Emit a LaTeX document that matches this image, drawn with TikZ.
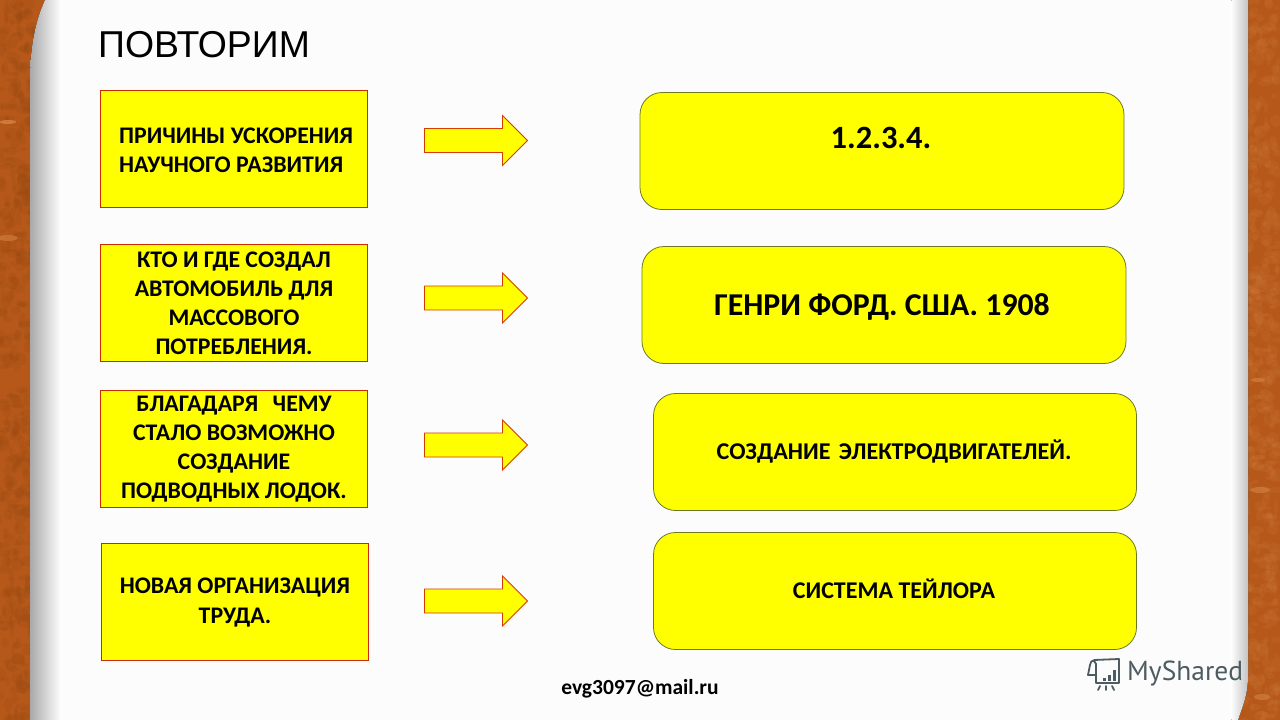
\documentclass[tikz,border=0pt]{standalone}
\usepackage{fontspec}
\setmainfont{Carlito}
\newfontfamily\titlefont{Liberation Sans}
\newfontfamily\logofont{PT Sans}
\usetikzlibrary{calc}
\definecolor{boxyellow}{HTML}{FFFF00}
\definecolor{wood}{HTML}{B5581A}
\definecolor{wooddark}{HTML}{8F430F}
\definecolor{woodlight}{HTML}{D98A4A}
\definecolor{panel}{HTML}{FCFCFD}
\definecolor{shade}{HTML}{A9A9AA}
\definecolor{edgered}{HTML}{CC2A00}
\definecolor{edgegreen}{HTML}{6E7A22}
\definecolor{logoc}{HTML}{4C5C60}
\tikzset{
  x=1pt,y=-1pt,
  sqbox/.style={draw=edgered,fill=boxyellow,line width=1pt,align=center,font=\bfseries\fontsize{23.8}{29}\selectfont,inner sep=0pt},
  rdbox/.style={draw=edgegreen,fill=boxyellow,line width=.8pt,rounded corners=22pt,align=center,inner sep=0pt},
  boxtext/.style={inner sep=0pt,align=center},
  blockarrow/.style={draw=edgered!80!orange,fill=boxyellow,line width=.9pt,line join=miter},
}
\newcommand{\blockarr}[2]{% x, y-centre
  \draw[blockarrow] (#1,#2-12) -- (#1+78,#2-12) -- (#1+78,#2-25) -- (#1+103,#2) -- (#1+78,#2+25) -- (#1+78,#2+12) -- (#1,#2+12) -- cycle;}
\begin{document}
\begin{tikzpicture}
\useasboundingbox (0,0) rectangle (1280,720);
% wood
\fill[wood] (0,0) rectangle (1280,720);
\begin{scope}
\pgfmathsetseed{41}
\clip (0,0) rectangle (1280,720);
\foreach \i in {1,...,420}{
  \pgfmathsetmacro{\yy}{random(0,720)}
  \pgfmathsetmacro{\xa}{random(0,34)}
  \pgfmathsetmacro{\xb}{random(1244,1278)}
  \pgfmathsetmacro{\ww}{random(2,7)}
  \pgfmathsetmacro{\hh}{random(2,7)}
  \fill[wooddark,opacity=.14] (\xa,\yy) circle[x radius=\ww,y radius=\hh];
  \pgfmathsetmacro{\yb}{random(0,720)}
  \fill[woodlight,opacity=.12] (\xb,\yb) circle[x radius=\hh,y radius=\ww];
}
\fill[woodlight,opacity=.7] (8,122) ellipse[x radius=8,y radius=2];
\fill[woodlight,opacity=.5] (8,238) ellipse[x radius=10,y radius=3];
\fill[woodlight,opacity=.5] (1260,490) ellipse[x radius=10,y radius=3];
\fill[woodlight,opacity=.5] (1258,380) ellipse[x radius=7,y radius=2];
\fill[woodlight,opacity=.5] (1262,697) ellipse[x radius=8,y radius=3];
\end{scope}
% panel with shadow
\fill[left color=shade,right color=panel] (45,0) .. controls (36,20) and (30,45) .. (30,80) -- (30,720) -- (60,720) -- (60,0) -- cycle;
\fill[panel] (59.5,0) rectangle (1232,720);
\fill[left color=panel,right color=shade!70!white] (1231.5,0) -- (1248,0) -- (1248,675) .. controls (1248,695) and (1243,705) .. (1238,720) -- (1231.5,720) -- cycle;
% title
\node[anchor=west,inner sep=0pt,font=\titlefont\fontsize{37.4}{40}\selectfont] (title) at (98,45) {ПОВТОРИМ};
% left boxes
\node[sqbox,minimum width=267pt,minimum height=117pt] (q1) at (234,149) {};
\node[boxtext,anchor=west,align=left,font=\bfseries\fontsize{23.8}{29}\selectfont] (q1t) at (119,150) {ПРИЧИНЫ УСКОРЕНИЯ\\НАУЧНОГО РАЗВИТИЯ};
\node[sqbox,minimum width=267pt,minimum height=117pt] (q2) at (234,303) {КТО И ГДЕ СОЗДАЛ\\АВТОМОБИЛЬ ДЛЯ\\МАССОВОГО\\ПОТРЕБЛЕНИЯ.};
\node[sqbox,minimum width=267pt,minimum height=117pt] (q3) at (234,449) {БЛАГАДАРЯ\hspace{9pt} ЧЕМУ\\СТАЛО ВОЗМОЖНО\\СОЗДАНИЕ\\ПОДВОДНЫХ ЛОДОК.};
\node[sqbox,minimum width=267pt,minimum height=117pt] (q4) at (235,602) {};
\node[boxtext,font=\bfseries\fontsize{23.8}{30}\selectfont] (q4t) at (235,603) {НОВАЯ ОРГАНИЗАЦИЯ\\ТРУДА.};
% arrows
\blockarr{424.5}{140.5}
\blockarr{424.5}{298}
\blockarr{424.5}{445}
\blockarr{424.5}{601}
% right boxes
\node[rdbox,minimum width=484pt,minimum height=117pt] (a1) at (882,151) {};
\node[boxtext,font=\bfseries\fontsize{32.5}{36}\selectfont] (a1t) at (881,138) {1.2.3.4.};
\node[rdbox,minimum width=484pt,minimum height=117pt] (a2) at (884,305) {};
\node[boxtext,font=\bfseries\fontsize{31.8}{36}\selectfont] (a2t) at (882,307) {ГЕНРИ ФОРД. США. 1908};
\node[rdbox,minimum width=483pt,minimum height=117pt] (a3) at (895,452) {};
\node[boxtext,font=\bfseries\fontsize{24.1}{28}\selectfont] (a3t) at (894,451) {СОЗДАНИЕ\hspace{3pt} ЭЛЕКТРОДВИГАТЕЛЕЙ.};
\node[rdbox,minimum width=483pt,minimum height=117pt] (a4) at (895,591) {};
\node[boxtext,font=\bfseries\fontsize{24}{28}\selectfont] (a4t) at (894,589) {СИСТЕМА ТЕЙЛОРА};
% footer
\node[font=\bfseries\fontsize{21.5}{24}\selectfont,inner sep=0pt] (mail) at (640,689) {evg3097@mail.ru};
% logo
\node[anchor=west,inner sep=0pt,text=logoc,font=\logofont\fontsize{27.5}{30}\selectfont] (logo) at (1127,674) {MyShared};
\begin{scope}[draw=logoc,line width=1.8pt,line cap=round,line join=round]
\draw (1094,660) -- (1119,659) -- (1119,683) -- (1096,683) -- (1096,664);
\draw (1096,664) .. controls (1094,659) and (1091,660) .. (1090,665) -- (1088,675) -- (1096,675);
\fill[logoc] (1103,678) rectangle (1106,681);
\fill[logoc] (1108,675) rectangle (1111,681);
\fill[logoc] (1113,670) rectangle (1116,681);
\draw (1100,686) -- (1098,690);
\draw (1106,686) -- (1106,690);
\draw (1112,686) -- (1114,690);
\end{scope}
\end{tikzpicture}
\end{document}
